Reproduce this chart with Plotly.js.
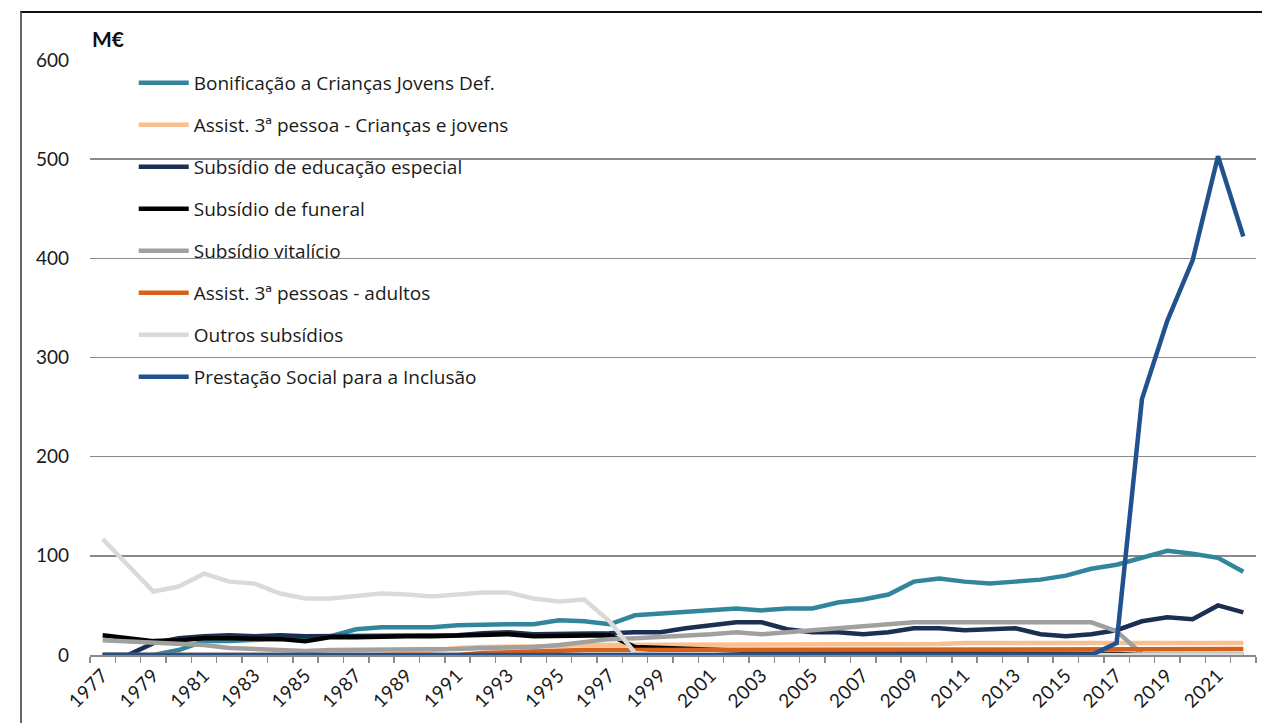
<!DOCTYPE html>
<html>
<head>
<meta charset="utf-8">
<script src="https://cdn.plot.ly/plotly-3.0.1.min.js"></script>
<style>
  html, body { margin: 0; padding: 0; background: #fff; }
  #chart { width: 1262px; height: 723px; position: absolute; left: 0; top: 0; }
  #frame { position: absolute; left: 20px; top: 11px; width: 1250px; height: 720px;
           border-top: 2px solid #111; border-left: 2px solid #666; pointer-events: none; }
  #chart .xtick text { letter-spacing: 0.5px; }
</style>
</head>
<body>
<div id="chart"></div>
<div id="frame"></div>
<script>
const years = [];
for (let y = 1977; y <= 2022; y++) years.push(y);

const seriesNames = [
  "Bonificação a Crianças Jovens Def.",
  "Assist. 3ª pessoa - Crianças e jovens",
  "Subsídio de educação especial",
  "Subsídio de funeral",
  "Subsídio vitalício",
  "Assist. 3ª pessoas - adultos",
  "Outros subsídios",
  "Prestação Social para a Inclusão"
];

// values in M€, 1977..2022
const bonificacao = [0,0,0,5,14,14,15,16,17,19,26,28,28,28,30,31,31,31,35,34,31,40,42,44,46,47,45,47,47,53,56,61,74,77,74,72,74,76,80,87,91,98,105,102,98,84];
const assistCriancas = [0,0,0,0,0,0,0,0,0,0,0,0,2,5,7,8,8,9,9,10,10,10,10,10,10,10,10,10,10,11,11,11,11,11,12,12,12,12,12,12,12,12,12,12,12,12];
const educacaoEspecial = [0,0,12,17,19,20,19,20,19,19,19,19,19,19,20,22,23,21,21,22,22,23,23,27,30,33,33,26,23,23,21,23,27,27,25,26,27,21,19,21,25,34,38,36,50,43];
const funeral = [20,17,14,15,17,17,17,16,14,18,18,19,19,19,20,21,21,19,19,20,20,8,7,6,5,4,3,3,2,2,2,2,2,2,2,2,2,1,1,1,1,0,0,0,0,0];
const vitalicio = [15,14,13,12,10,7,6,5,4,5,5,6,6,6,6,7,7,8,10,13,16,17,18,19,21,23,21,23,25,27,30,31,33,33,33,32,32,33,33,33,24,1,0,0,0,0];
const assistAdultos = [0,0,0,0,0,0,0,0,0,0,0,0,0,0,0,2,3,4,4,5,5,5,5,5,5,5,5,5,5,6,6,6,6,6,6,6,6,6,6,6,6,6,6,6,6,6];
const outros = [117,90,64,69,82,74,72,62,57,57,60,62,61,59,61,63,63,57,54,56,34,2,0,0,0,0,0,0,0,0,0,0,0,0,0,0,0,0,0,0,0,0,0,0,0,0];
const psi = [0,0,0,0,0,0,0,0,0,0,0,0,0,0,0,0,0,0,0,0,0,0,0,0,0,0,0,0,0,0,0,0,0,0,0,0,0,0,0,0,12,258,337,398,503,422];

const seriesValues = [bonificacao, assistCriancas, educacaoEspecial, funeral, vitalicio, assistAdultos, outros, psi];
const seriesColors = ["#31869c", "#f9bf8f", "#1b2f52", "#000000", "#a0a0a0", "#d6601a", "#dadada", "#22518f"];

const tickYears = years.filter(y => (y - 1977) % 2 === 0 && y <= 2021);

const FONT = "Lato, 'Open Sans', sans-serif";
const LEGEND_FONT = "'Open Sans', Lato, sans-serif";

const traces = seriesNames.map((name, i) => ({
  type: "scatter",
  mode: "lines",
  name: name,
  x: years,
  y: seriesValues[i],
  legendgroup: "g" + i,
  line: { color: seriesColors[i], width: 4.5 },
  hoverinfo: "x+y+name"
}));

const layout = {
  width: 1262,
  height: 723,
  margin: { l: 90, r: 6, t: 60, b: 68 },
  paper_bgcolor: "#fff",
  plot_bgcolor: "#fff",
  font: { family: FONT, size: 18, color: "#1a1a1a" },
  showlegend: true,
  legend: {
    x: 0.0375, xanchor: "left",
    y: 0.9935, yanchor: "top",
    bgcolor: "rgba(0,0,0,0)",
    font: { family: LEGEND_FONT, size: 19, color: "#1a1a1a" },
    tracegroupgap: 14.3,
    itemwidth: 50,
    traceorder: "grouped"
  },
  xaxis: {
    type: "linear",
    range: [1976.5, 2022.5],
    tickmode: "array",
    tickvals: tickYears,
    ticktext: tickYears.map(String),
    tickangle: -45,
    ticks: "",
    showgrid: false,
    zeroline: false,
    showline: true,
    linecolor: "#8a8a8a",
    linewidth: 1.5,
    tickfont: { family: FONT, size: 19, color: "#1a1a1a" },
    minor: {
      tickmode: "linear",
      tick0: 1976.5,
      dtick: 1,
      ticks: "outside",
      ticklen: 6,
      tickwidth: 1.5,
      tickcolor: "#8a8a8a",
      showgrid: false
    }
  },
  yaxis: {
    range: [0, 600],
    dtick: 100,
    tick0: 0,
    ticks: "",
    showgrid: true,
    gridcolor: "#8a8a8a",
    gridwidth: 1.5,
    zeroline: false,
    showline: false,
    ticklabelstandoff: 20,
    tickfont: { family: FONT, size: 19, color: "#1a1a1a" }
  },
  annotations: [{
    text: "<b>M€</b>",
    xref: "paper", yref: "paper",
    x: 0, y: 1,
    xanchor: "left", yanchor: "bottom",
    yshift: 7,
    showarrow: false,
    font: { family: FONT, size: 21, color: "#111" }
  }]
};

Plotly.newPlot("chart", traces, layout, { displayModeBar: false, staticPlot: true });
</script>
</body>
</html>
